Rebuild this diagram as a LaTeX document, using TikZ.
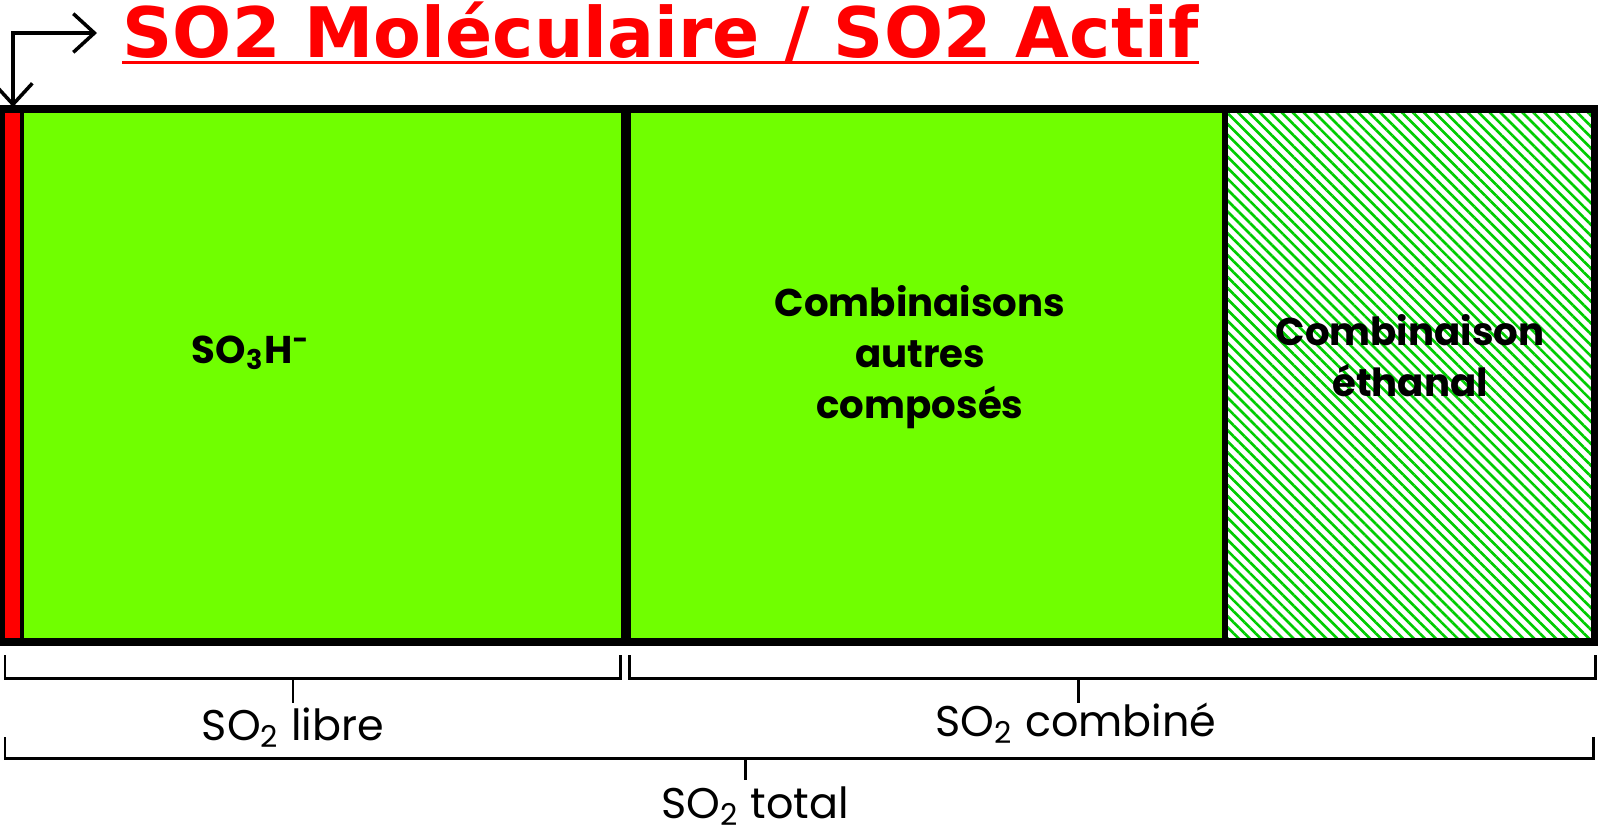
\documentclass[tikz,border=0pt]{standalone}
\usepackage{fontspec}
\setmainfont{Poppins}
\newfontfamily\titlefont{DejaVu Sans}
\usetikzlibrary{arrows.meta,patterns.meta}
\definecolor{limegreen}{RGB}{112,255,0}
\definecolor{hatchgreen}{RGB}{0,204,0}
\definecolor{titlered}{RGB}{255,0,0}
\tikzset{
  frame/.style={draw=black, line width=2pt},
  bracket/.style={draw=black, line width=0.85pt},
  arrowline/.style={draw=black, line width=1pt, arrows={Straight Barb[length=6pt,width=11pt]-Straight Barb[length=6pt,width=11pt]}},
  titletext/.style={font=\titlefont\bfseries\fontsize{19.8}{24}\selectfont, text=titlered, inner sep=0pt},
  boxtext/.style={font=\bfseries\fontsize{11}{14.4}\selectfont, align=center, text=black, inner sep=0pt},
  labeltext/.style={font=\fontsize{12.2}{14}\selectfont, text=black, inner sep=0pt, anchor=base}
}
\begin{document}
\begin{tikzpicture}[x=0.01cm, y=-0.01cm]
  %Page
  \useasboundingbox (0,0) rectangle (1600,833);
  %Title and arrow
  \node[titletext, anchor=base west] (title) at (122,57) {SO2 Moléculaire / SO2 Actif};
  \draw[titlered, line width=0.85pt] ([yshift=-0.055cm]title.base west) -- ([yshift=-0.055cm]title.base east);
  \coordinate (redtop) at (13,107);
  \coordinate (corner) at (13,33);
  \coordinate (arrowend) at (97,33);
  \draw[arrowline] (redtop) -- (corner) -- (arrowend);

  %Boxes
  \fill[titlered] (0,109) rectangle (22,642);
  \fill[limegreen] (22,109) rectangle (1225,642);
  \fill[white] (1225,109) rectangle (1594,642);
  \pattern[pattern={Lines[angle=-45,distance=2.2pt,line width=0.75pt]}, pattern color=hatchgreen] (1225,109) rectangle (1594,642);
  \draw[line width=1.1pt] (22,109) -- (22,642);
  \draw[line width=2.6pt] (626,109) -- (626,642);
  \draw[line width=1.7pt] (1225,109) -- (1225,642);
  \draw[frame] (1.5,109) rectangle (1594,642);

  %Texts in the boxes
  \node[boxtext, anchor=base] (sothree) at (251,363) {SO\textsubscript{3}H\textsuperscript{-}};
  \node[boxtext, anchor=base] (autres) at (920,418) {Combinaisons\\autres\\composés};
  \node[boxtext, anchor=base] (ethanal) at (1410,396) {Combinaison\\éthanal};

  %Brackets
  \draw[bracket] (5,655) -- (5,678) -- (620,678) -- (620,655);
  \draw[bracket] (629,655) -- (629,678) -- (1595,678) -- (1595,655);
  \draw[bracket] (5,737) -- (5,758) -- (1593,758) -- (1593,737);
  \coordinate (librebrace) at (293,678);
  \coordinate (combinebrace) at (1078,678);
  \coordinate (totalbrace) at (745,758);
  \draw[bracket] (librebrace) -- ++(0,25);
  \draw[bracket] (combinebrace) -- ++(0,25);
  \draw[bracket] (totalbrace) -- ++(0,22);

  %Labels
  \node[labeltext] (librelabel) at (293,740) {SO\textsubscript{2} libre};
  \node[labeltext] (combinelabel) at (1076,736) {SO\textsubscript{2} combiné};
  \node[labeltext] (totallabel) at (755,818) {SO\textsubscript{2} total};
\end{tikzpicture}
\end{document}
